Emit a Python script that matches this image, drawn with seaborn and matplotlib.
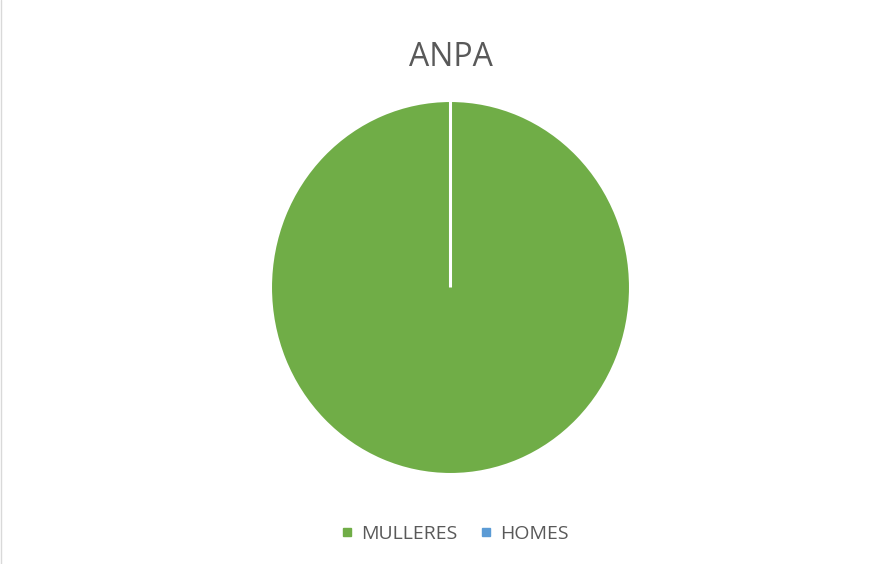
import matplotlib.pyplot as plt
import matplotlib.lines as mlines
import seaborn as sns

categories = ["MULLERES", "HOMES"]
values = [100, 0]
colors = ["#70AD47", "#5B9BD5"]
title = "ANPA"

sns.set_theme(style="white")
plt.rcParams['font.family'] = ['Open Sans', 'DejaVu Sans']

W, H = 894, 564
fig = plt.figure(figsize=(W / 100, H / 100), dpi=100)

# pie centred at (450.5, 287.5) px, slightly taller than wide like the reference
rx, ry = 180, 187
cx, cy = 450.5, 287.5
ax = fig.add_axes([(cx - rx) / W, (H - cy - ry) / H, 2 * rx / W, 2 * ry / H])
ax.pie(values, colors=colors, startangle=90, counterclock=False,
       wedgeprops=dict(edgecolor="white", linewidth=2.2))
ax.set_xlim(-1, 1)
ax.set_ylim(-1, 1)
ax.set_aspect("auto")

fig.text(0.5 + 4 / W, 1 - 57 / H, title, ha="center", va="center",
         fontsize=23, color="#595959")

handles = [mlines.Line2D([], [], linestyle="none", marker="s", markersize=5.5,
                         markerfacecolor=c, markeredgecolor=c) for c in colors]
fig.legend(handles, categories, loc="center", bbox_to_anchor=(0.5 + 8 / W, 1 - 534 / H),
           ncol=2, frameon=False, fontsize=14, handlelength=0.6,
           handletextpad=0.4, columnspacing=1.2, labelcolor="#595959")

# thin left border of the chart area
fig.add_artist(mlines.Line2D([0.6 / W, 0.6 / W], [0, 1], color="#D9D9D9",
                             linewidth=1, transform=fig.transFigure))

fig.savefig("out.png", dpi=100, facecolor="white")
